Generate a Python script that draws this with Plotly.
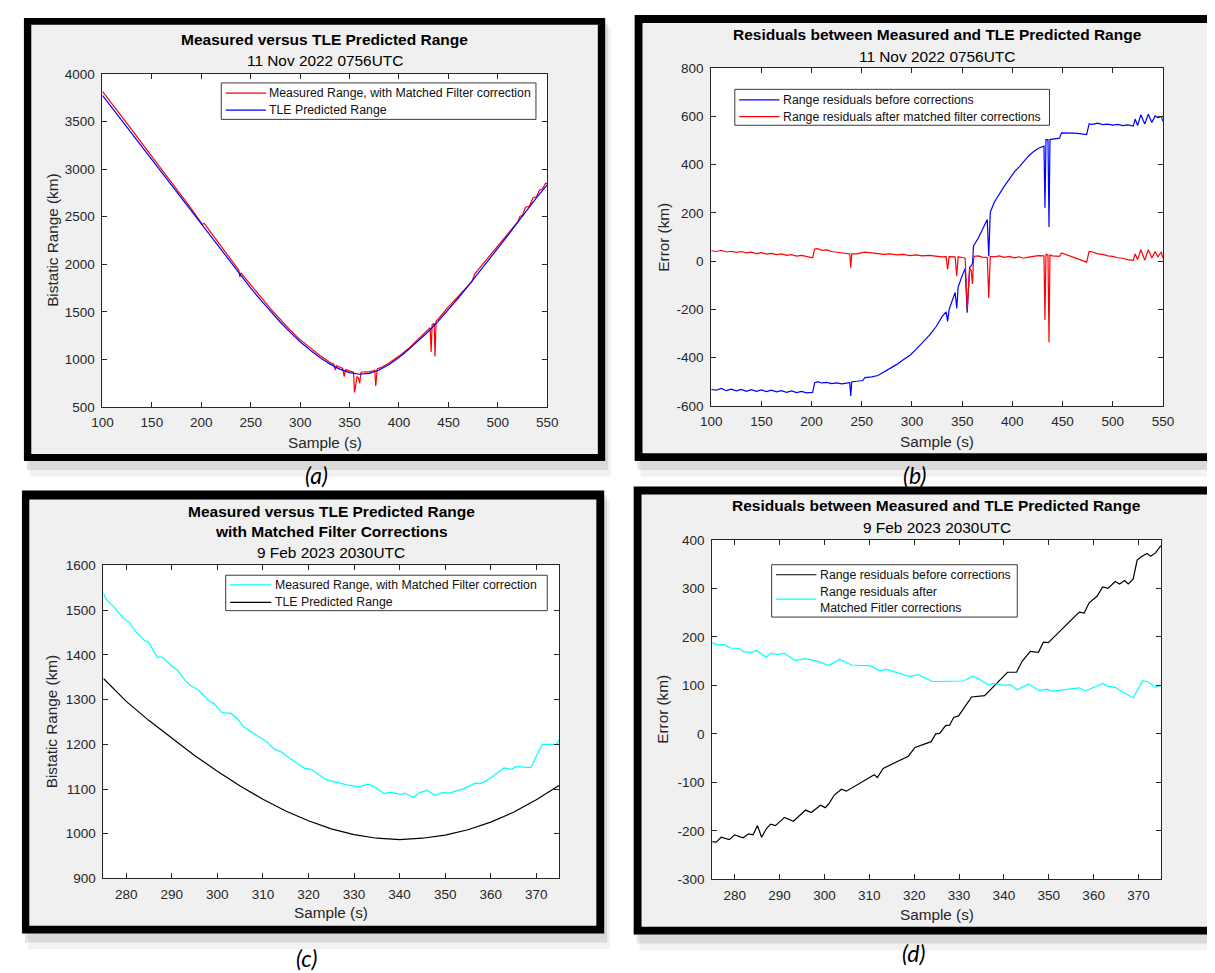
import plotly.graph_objects as go

W, H = 1215, 973
FONT = "Liberation Sans, Arial, Helvetica, sans-serif"

# ---------------- 11 Nov 2022 0756UTC ----------------
# TLE predicted bistatic range (km)
nov_tle_t = [100, 110, 120, 130, 140, 150, 160, 170, 180, 190, 200, 210, 220, 230, 240,
             250, 260, 270, 280, 290, 300, 310, 320, 330, 340, 350, 360, 370, 380, 390,
             400, 410, 420, 430, 440, 450, 460, 470, 480, 490, 500, 510, 520, 530, 540, 550]
nov_tle = [3775, 3640, 3505, 3370, 3235, 3100, 2965, 2830, 2695, 2558, 2420, 2285, 2150, 2015, 1880,
           1750, 1625, 1505, 1390, 1283, 1185, 1098, 1020, 952, 897, 860, 843, 852, 888, 946,
           1020, 1105, 1195, 1295, 1405, 1520, 1645, 1772, 1903, 2035, 2165, 2300, 2440, 2580, 2710, 2835]

# Measured range with matched filter correction (km)
nov_meas_t = [100, 110, 120, 130, 140, 150, 160, 170, 180, 190, 201, 203, 210, 220, 230, 238, 239, 240,
              250, 253, 260, 270, 280, 290, 300, 310, 320, 330, 334, 335.5, 337, 343, 344.6, 346, 350,
              354, 355, 356.5, 357.5, 359, 360.3, 361.3, 362, 366, 370, 375.5, 376.5, 378, 382, 390,
              400, 410, 420, 430, 431.5, 432.5, 433.5, 435.5, 436.5, 437.5, 440, 449, 460, 470, 474,
              476.5, 480, 490, 500, 510, 520.5, 522.3, 524.8, 528, 532, 535.4, 539, 542.3, 545, 548.4, 550]
nov_meas = [3818, 3685, 3546, 3410, 3272, 3135, 2997, 2860, 2722, 2582, 2420, 2429, 2330, 2190, 2048, 1937, 1866, 1910,
            1783, 1749, 1659, 1533, 1416, 1306, 1207, 1119, 1040, 970, 949, 888, 932, 904, 818, 892, 875,
            865, 651, 758, 816, 804, 748, 853, 864, 869, 869, 885, 721, 900, 915, 962,
            1034, 1117, 1215, 1320, 1333, 1078, 1363, 1380, 1030, 1402, 1427, 1542, 1663, 1777, 1820,
            1897, 1941, 2063, 2185, 2312, 2450, 2502, 2514, 2599, 2610, 2697, 2710, 2780, 2791, 2853, 2848]

# Range residuals (km)
nov_res_t = [100, 105, 110, 115, 120, 125, 130, 135, 140, 145, 150, 155, 160, 165, 170, 175, 180, 185, 190, 195,
             201, 203, 206, 210, 215, 220, 225, 230, 235, 238, 239, 240, 245, 251, 253, 260, 266, 272, 278, 285,
             291, 298, 304, 310, 317, 324, 330, 334, 335.5, 337, 343, 344.6, 346, 350, 353, 355, 356.5, 357.5,
             359, 360.3, 361.3, 362, 366, 370, 375, 376.5, 378, 382, 387, 392, 397, 402, 407, 411, 416, 421,
             426, 431.5, 432.5, 433.5, 435.5, 436.5, 437.5, 440, 447, 449, 455, 460, 465, 470, 474, 476.5,
             480, 485, 490, 495, 500, 505, 510, 515, 520.5, 522.3, 524.8, 528, 532, 535.4, 539, 542.3, 545,
             548.4, 550]
nov_res_before = [-532, -535, -528, -537, -531, -538, -532, -540, -533, -540, -534, -541, -535, -542, -537, -544,
                  -538, -545, -540, -546, -544, -505, -500, -505, -503, -508, -505, -509, -506, -503, -559, -500,
                  -498, -495, -483, -480, -474, -460, -447, -428, -410, -390, -366, -340, -309, -272, -230, -210,
                  -250, -200, -130, -196, -108, -60, -30, -214, -60, -25, -20, -10, 61, 68, 95, 130, 173, 20,
                  203, 244, 280, 311, 340, 370, 392, 413, 435, 454, 468, 477, 221, 504, 504, 142, 504, 506,
                  510, 532, 533, 531, 530, 528, 525, 569, 567, 572, 566, 568, 564, 567, 562, 565, 560, 589,
                  562, 607, 569, 609, 575, 602, 595, 600, 580]
nov_res_after = [43, 40, 45, 38, 41, 36, 40, 34, 37, 31, 35, 29, 32, 27, 30, 24, 27, 21, 24, 18,
                 14, 50, 52, 45, 47, 40, 37, 33, 32, 30, -27, 30, 30, 33, 37, 34, 32, 28, 30, 26,
                 28, 23, 26, 22, 24, 20, 18, 19, -34, 19, 18, -61, 18, 15, 12, -200, -90, -30,
                 -40, -95, 10, 20, 22, 17, 15, -153, 20, 18, 22, 16, 20, 14, 18, 12, 17, 20,
                 23, 22, -244, 30, 25, -336, 25, 22, 20, 34, 25, 18, 12, 5, -4, 40,
                 38, 30, 28, 22, 20, 14, 12, 6, 3, 30, 7, 47, 4, 47, 13, 40, 18,
                 38, 13]

# ---------------- 9 Feb 2023 2030UTC ----------------
feb_tle_t = [275, 280, 285, 290, 295, 300, 305, 310, 315, 320, 325, 330, 335, 340, 345, 350, 355, 360, 365, 370, 375]
feb_tle = [1347, 1296, 1253, 1213, 1175, 1140, 1107, 1077, 1051, 1029, 1011, 998, 990, 987, 990, 997, 1009,
           1026, 1048, 1076, 1108]

feb_meas_t = [275, 275.7, 277.5, 279.3, 280.7, 282.2, 284, 284.9, 286.8, 287.9, 290.2, 291.2, 292.9, 294.2,
              295.8, 298.3, 299.3, 300.9, 303, 304.5, 305.9, 308.8, 310.9, 312.5, 314, 316, 319.2, 320.6,
              323.9, 328.2, 331.1, 333.1, 334.3, 336.5, 337.9, 340.1, 341.2, 343, 344.4, 346, 347.8, 349.4,
              350.9, 354.1, 356.6, 357.7, 358.8, 360.4, 362.9, 364.6, 365.5, 368.8, 370.1, 371.3, 374.5, 375]
feb_meas = [1538, 1523, 1505, 1482, 1472, 1450, 1432, 1428, 1395, 1395, 1373, 1366, 1343, 1331,
            1322, 1296, 1291, 1271, 1269, 1256, 1238, 1220, 1205, 1189, 1183, 1168, 1146, 1144,
            1121, 1110, 1105, 1111, 1106, 1090, 1093, 1088, 1091, 1081, 1092, 1097, 1086, 1092,
            1091, 1101, 1113, 1112, 1117, 1128, 1147, 1144, 1150, 1148, 1176, 1200, 1200, 1210]

feb_before_t = [275, 275.9, 277, 278.8, 280, 281.9, 283.1, 284.1, 285.1, 286, 287.1, 288, 289.1, 291.1,
                293.1, 295.8, 297.1, 299.1, 300.2, 301, 302.2, 303.8, 304.9, 311.1, 311.8, 313.1, 318.7,
                320.2, 323.8, 324.8, 325.7, 327, 327.9, 328.8, 329.9, 332.8, 335.7, 340.8, 342.8, 344.1,
                345.9, 347.7, 348.8, 349.9, 356.8, 357.9, 359, 360.8, 362, 363.2, 364.8, 365.8, 366.9,
                367.7, 368.8, 369.7, 370.6, 371.9, 372.7, 373.8, 375]
feb_before = [-222, -223, -213, -218, -208, -214, -206, -208, -189, -213, -195, -186, -189, -172,
              -180, -157, -162, -147, -152, -144, -126, -114, -118, -84, -90, -71, -46,
              -28, -16, 0, 1, 17, 18, 34, 37, 76, 79, 127, 127, 150,
              170, 168, 189, 188, 251, 249, 270, 284, 303, 300, 314, 309, 316,
              309, 319, 358, 365, 372, 366, 373, 388]

feb_after_t = [275, 275.9, 277.7, 279.1, 281, 282, 283.8, 284.9, 287, 288, 289.7, 291.1, 293.5, 295.8,
               298.7, 301, 303.4, 306, 310.3, 312.4, 313.8, 319, 320.9, 324.1, 331, 333, 334.3, 336.5,
               337.9, 340.1, 341.5, 343, 345.5, 347.9, 349.5, 350.8, 356.8, 358.2, 360.4, 362, 362.9,
               364.8, 368.8, 370.9, 372, 373.8, 375]
feb_after = [188, 184, 184, 177, 176, 169, 168, 172, 158, 166, 164, 166, 151, 155,
             149, 141, 154, 142, 140, 130, 133, 118, 122, 108, 109, 119, 114, 101,
             104, 100, 101, 91, 103, 89, 92, 88, 95, 89, 97, 104, 99,
             96, 74, 109, 108, 96, 100]

# tick labels
nov_x_ticks = [100, 150, 200, 250, 300, 350, 400, 450, 500, 550]
feb_x_ticks = [280, 290, 300, 310, 320, 330, 340, 350, 360, 370]
a_y_ticks = [500, 1000, 1500, 2000, 2500, 3000, 3500, 4000]
b_y_ticks = [-600, -400, -200, 0, 200, 400, 600, 800]
c_y_ticks = [900, 1000, 1100, 1200, 1300, 1400, 1500, 1600]
d_y_ticks = [-300, -200, -100, 0, 100, 200, 300, 400]


def px(x):
    return x / W


def py(y):
    return 1 - y / H


fig = go.Figure()

RED, BLUE, CYAN, BLACK = "#ff0000", "#0000ff", "#00ffff", "#000000"
LW = 1.2

series = [
    # x, y, color, name, axis suffix
    (nov_meas_t, nov_meas, RED, "Measured Range, with Matched Filter correction", ""),
    (nov_tle_t, nov_tle, BLUE, "TLE Predicted Range", ""),
    (nov_res_t, nov_res_before, BLUE, "Range residuals before corrections", "2"),
    (nov_res_t, nov_res_after, RED, "Range residuals after matched filter corrections", "2"),
    (feb_meas_t, feb_meas, CYAN, "Measured Range, with Matched Filter correction", "3"),
    (feb_tle_t, feb_tle, BLACK, "TLE Predicted Range", "3"),
    (feb_before_t, feb_before, BLACK, "Range residuals before corrections", "4"),
    (feb_after_t, feb_after, CYAN, "Range residuals after<br>Matched Fitler corrections", "4"),
]
for xs, ys, col, name, sfx in series:
    fig.add_trace(go.Scatter(x=xs, y=ys, mode="lines", line=dict(color=col, width=LW), name=name,
                             xaxis="x" + sfx, yaxis="y" + sfx, showlegend=False, hoverinfo="x+y"))

panels = [
    dict(outer=(5, 3, 597, 453), inner=(12.5, 10, 589.5, 446), plot=(85, 60, 538, 398),
         xr=[100, 550], yr=[500, 4000], xt=nov_x_ticks, yt=a_y_ticks),
    dict(outer=(627, 0, 1215, 453), inner=(635, 8, 1211, 445), plot=(705, 54, 1165, 397),
         xr=[100, 550], yr=[-600, 800], xt=nov_x_ticks, yt=b_y_ticks),
    dict(outer=(3, 483, 596, 933), inner=(10.5, 492, 588, 925), plot=(86, 559, 550, 877),
         xr=[275, 375], yr=[900, 1600], xt=feb_x_ticks, yt=c_y_ticks),
    dict(outer=(626, 479, 1215, 934), inner=(634, 487, 1211, 926), plot=(706, 533, 1163, 878),
         xr=[275, 375], yr=[-300, 400], xt=feb_x_ticks, yt=d_y_ticks),
]

shapes = []


def rect(x0, y0, x1, y1, fill, line=None, layer="below"):
    return dict(type="rect", xref="paper", yref="paper", x0=px(x0), x1=px(x1), y0=py(y1), y1=py(y0),
                fillcolor=fill, line=dict(width=0) if line is None else line, layer=layer)


for p in panels:
    x0, y0, x1, y1 = p["outer"]
    shapes.append(rect(x0 + 6, y0 + 10, x1 + 6, y1 + 16, "rgba(0,0,0,0.05)"))
    shapes.append(rect(x0 + 3, y0 + 6, x1 + 3, y1 + 9, "rgba(0,0,0,0.10)"))
for p in panels:
    shapes.append(rect(*p["outer"], "#000000"))
    shapes.append(rect(*p["inner"], "#f0f0f0"))
    shapes.append(rect(*p["plot"], "#ffffff"))

axis_common = dict(showline=True, linecolor="#262626", linewidth=1, mirror="ticks", ticks="inside",
                   ticklen=5, tickwidth=1, tickcolor="#262626", showgrid=False, zeroline=False,
                   tickfont=dict(family=FONT, size=13.5, color="#262626"), fixedrange=True)

layout_axes = {}
for i, p in enumerate(panels):
    sfx = "" if i == 0 else str(i + 1)
    x0, y0, x1, y1 = p["plot"]
    layout_axes["xaxis" + sfx] = dict(axis_common, domain=[px(x0), px(x1)], range=p["xr"],
                                      tickvals=p["xt"], ticktext=[str(v) for v in p["xt"]],
                                      anchor="y" + sfx, ticklabelstandoff=3)
    layout_axes["yaxis" + sfx] = dict(axis_common, domain=[py(y1), py(y0)], range=p["yr"],
                                      tickvals=p["yt"], ticktext=[str(v) for v in p["yt"]],
                                      anchor="x" + sfx, ticklabelstandoff=4)

ann = []


def text(x, y, s, size=15.3, color="#262626", angle=0, family=FONT, xanchor="center"):
    ann.append(dict(xref="paper", yref="paper", x=px(x), y=py(y), text=s, showarrow=False,
                    xanchor=xanchor, yanchor="middle", textangle=angle, borderpad=0,
                    font=dict(family=family, size=size, color=color)))


# legends (box, line samples, entries) drawn like the MATLAB legend boxes
legends = [
    dict(box=(206, 69, 526.5, 106), line=(210.5, 251.5), tx=254,
         lines=[(79.3, RED), (96.7, BLUE)],
         texts=[(79.3, "Measured Range, with Matched Filter correction"), (96.7, "TLE Predicted Range")]),
    dict(box=(729, 75.5, 1049.5, 112), line=(733.5, 774.5), tx=777.5,
         lines=[(86.3, BLUE), (103.3, RED)],
         texts=[(86.3, "Range residuals before corrections"),
                (103.3, "Range residuals after matched filter corrections")]),
    dict(box=(210.5, 569, 538, 605), line=(215, 257), tx=259.5,
         lines=[(578.8, CYAN), (596.5, BLACK)],
         texts=[(578.8, "Measured Range, with Matched Filter correction"), (596.5, "TLE Predicted Range")]),
    dict(box=(766.5, 558.3, 1016.7, 611.5), line=(771, 812), tx=814.5,
         lines=[(568.5, BLACK), (593.3, CYAN)],
         texts=[(569, "Range residuals before corrections"), (586, "Range residuals after"),
                (602.7, "Matched Fitler corrections")]),
]
for lg in legends:
    shapes.append(rect(*lg["box"], "#ffffff", line=dict(color="#3a3a3a", width=1), layer="above"))
    lx0, lx1 = lg["line"]
    for ly, col in lg["lines"]:
        shapes.append(dict(type="line", xref="paper", yref="paper", x0=px(lx0), x1=px(lx1),
                           y0=py(ly), y1=py(ly), line=dict(color=col, width=LW), layer="above"))
    for ty, s in lg["texts"]:
        text(lg["tx"], ty, s, size=12.3, color="#111111", xanchor="left")

# titles
text(311.5, 25, "<b>Measured versus TLE Predicted Range</b>", size=15.5, color="#000000")
text(311.5, 46, "11 Nov 2022 0756UTC", size=15.4, color="#000000")
text(935, 19.5, "<b>Residuals between Measured and TLE Predicted Range</b>", size=15.5, color="#000000")
text(935, 42, "11 Nov 2022 0756UTC", size=15.4, color="#000000")
text(318, 504, "<b>Measured versus TLE Predicted Range</b>", size=15.5, color="#000000")
text(318, 524.5, "<b>with Matched Filter Corrections</b>", size=15.5, color="#000000")
text(318, 546, "9 Feb 2023 2030UTC", size=15.4, color="#000000")
text(934.5, 498, "<b>Residuals between Measured and TLE Predicted Range</b>", size=15.5, color="#000000")
text(934.5, 521, "9 Feb 2023 2030UTC", size=15.4, color="#000000")

# axis titles
text(311.5, 434, "Sample (s)")
text(935, 433, "Sample (s)")
text(318, 912, "Sample (s)")
text(934.5, 914, "Sample (s)")
text(34, 229, "Bistatic Range (km)", angle=-90)
text(656, 226, "Error (km)", angle=-90)
text(34, 718, "Bistatic Range (km)", angle=-90)
text(656, 705.5, "Error (km)", angle=-90)

# panel labels
LBL = "Lato, Open Sans, sans-serif"
text(303, 467, "<i>(a)</i>", size=23, color="#000000", family=LBL)
text(912, 467, "<i>(b)</i>", size=23, color="#000000", family=LBL)
text(293, 958, "<i>(c)</i>", size=23, color="#000000", family=LBL)
text(912, 953, "<i>(d)</i>", size=23, color="#000000", family=LBL)

fig.update_layout(
    width=W, height=H, autosize=False,
    margin=dict(l=0, r=0, t=0, b=0),
    paper_bgcolor="#ffffff", plot_bgcolor="#ffffff",
    showlegend=False,
    shapes=shapes, annotations=ann,
    **layout_axes,
)

fig.write_html("out.html")
